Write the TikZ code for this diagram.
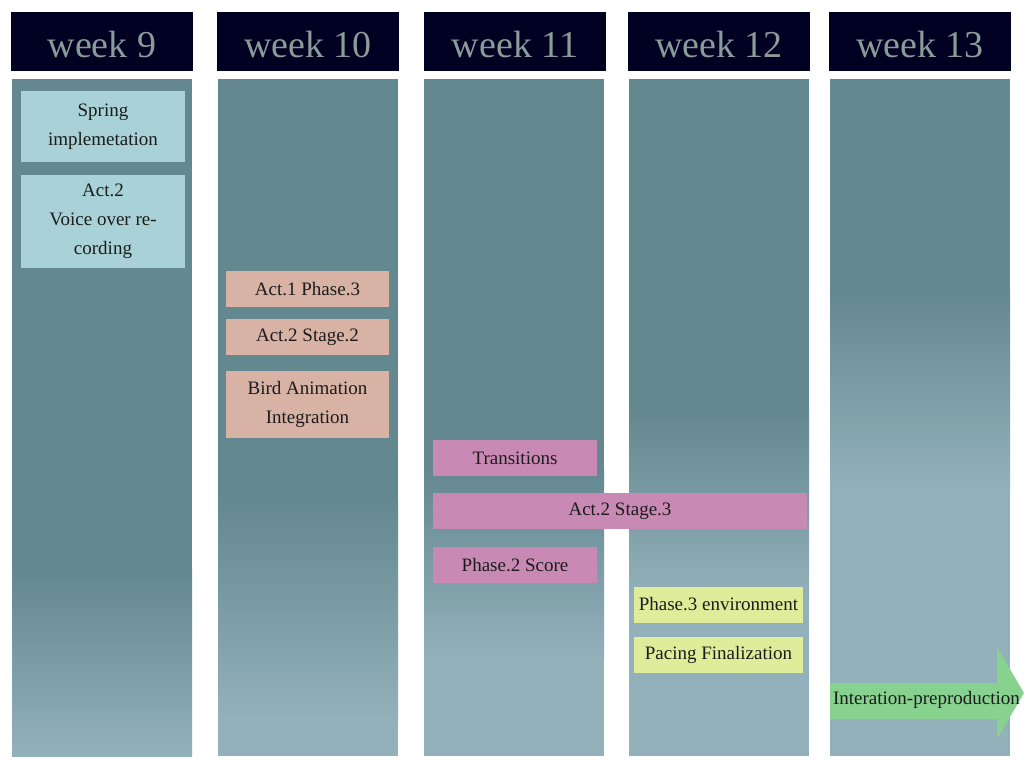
\documentclass[tikz,border=0pt]{standalone}
\usepackage{fontspec}
\setmainfont{Liberation Serif}
\definecolor{hdr}{HTML}{000022}
\definecolor{hdrtxt}{HTML}{8A9C98}
\definecolor{darkbg}{HTML}{648890}
\definecolor{lightbg}{HTML}{93B1BA}
\definecolor{cyanbox}{HTML}{A8D2D8}
\definecolor{salmonbox}{HTML}{D8B2A4}
\definecolor{pinkbox}{HTML}{C88AB4}
\definecolor{limebox}{HTML}{DFEC9A}
\definecolor{greenarr}{HTML}{88D290}
\definecolor{boxtxt}{HTML}{1C1C1C}
\tikzset{
  hdrbox/.style={rectangle, fill=hdr, inner sep=0pt, minimum width=136.5pt, minimum height=44.25pt,
     text=hdrtxt, font=\fontsize{28.5pt}{30pt}\selectfont, text height=23.25pt, text depth=0pt},
  taskbox/.style={rectangle, inner sep=0pt, align=center, text=boxtxt,
     font=\fontsize{14.25pt}{21.75pt}\selectfont},
}
\begin{document}
\begin{tikzpicture}[x=0.75pt,y=-0.75pt]
\useasboundingbox (0,0) rectangle (1025,768);
\fill[white] (0,0) rectangle (1025,768);
% column bodies with gradient
\foreach \xa/\xb/\ys/\ye in {12/192/570/756, 218/398/500/720, 424/604/470/660, 629/809/410/600, 830/1010/290/490}{
  \fill[darkbg] (\xa,79) rectangle (\xb,\ys);
  \shade[top color=darkbg,bottom color=lightbg] (\xa,\ys-0.5) rectangle (\xb,\ye);
  \ifnum\ye<756 \fill[lightbg] (\xa,\ye-0.5) rectangle (\xb,756);\fi
}
% headers
\node[hdrbox] (h9)  at (102,41.5) {week 9};
\node[hdrbox] (h10) at (308,41.5) {week 10};
\node[hdrbox] (h11) at (515,41.5) {week 11};
\node[hdrbox] (h12) at (719,41.5) {week 12};
\node[hdrbox] (h13) at (920,41.5) {week 13};
% week 9
\node[taskbox, fill=cyanbox, minimum width=123pt, minimum height=53.25pt] (spring) at (103,126.5) {Spring\\implemetation};
\node[taskbox, fill=cyanbox, minimum width=123pt, minimum height=69.75pt] (voice) at (103,221.5) {Act.2\\Voice over re-\\cording};
% week 10
\node[taskbox, fill=salmonbox, minimum width=122.25pt, minimum height=27pt] (a1p3) at (307.5,289) {Act.1 Phase.3};
\node[taskbox, fill=salmonbox, minimum width=122.25pt, minimum height=27pt] (a2s2) at (307.5,337) {Act.2 Stage.2};
\node[taskbox, fill=salmonbox, minimum width=122.25pt, minimum height=50.25pt] (bird) at (307.5,404.5) {Bird Animation\\Integration};
% week 11
\node[taskbox, fill=pinkbox, minimum width=123pt, minimum height=27pt] (trans) at (515,458) {Transitions};
\node[taskbox, fill=pinkbox, minimum width=280.5pt, minimum height=27pt] (a2s3) at (620,511) {Act.2 Stage.3};
\node[taskbox, fill=pinkbox, minimum width=123pt, minimum height=27pt] (p2s) at (515,565) {Phase.2 Score};
% week 12
\node[taskbox, fill=limebox, minimum width=126.75pt, minimum height=27pt] (p3e) at (718.5,604.5) {Phase.3 environment};
\node[taskbox, fill=limebox, minimum width=126.75pt, minimum height=27pt] (pace) at (718.5,655) {Pacing Finalization};
% week 13 arrow
\fill[greenarr] (830,683) -- (997,683) -- (997,647) -- (1024,693) -- (997,739) -- (997,719) -- (830,719) -- cycle;
\node[taskbox, inner sep=0pt] (iter) at (926.5,700) {Interation-preproduction};
\end{tikzpicture}
\end{document}
